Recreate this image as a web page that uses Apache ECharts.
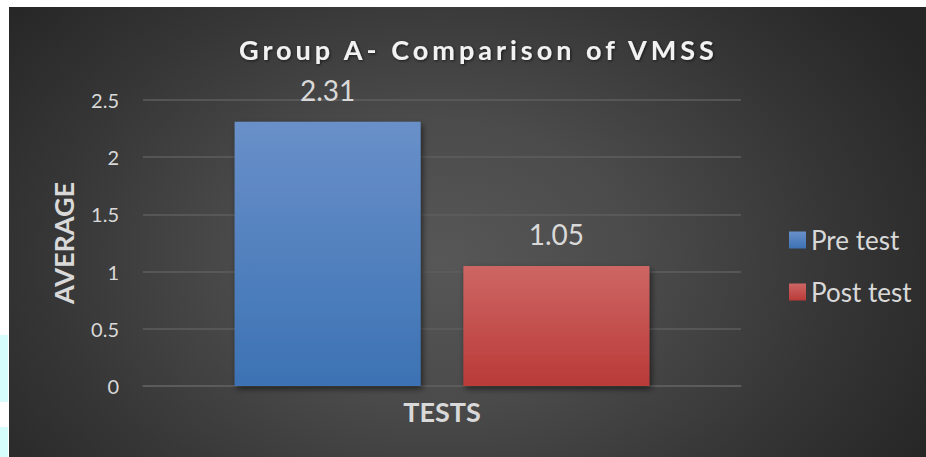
<!DOCTYPE html>
<html>
<head>
<meta charset="utf-8">
<script src="https://cdn.jsdelivr.net/npm/echarts@6/dist/echarts.min.js"></script>
<style>
  html, body { margin:0; padding:0; background:#ffffff; width:926px; height:457px; overflow:hidden; }
  #bg { position:absolute; left:9px; top:7px; width:917px; height:450px;
        background: radial-gradient(ellipse 560px 400px at 47% 56%, #575757 0%, #4b4b4b 35%, #363636 70%, #262626 100%); }
  .cy { position:absolute; left:0; width:8px; background:#d6fcfc; }
  #chart { position:absolute; left:0; top:0; width:926px; height:457px; }
</style>
</head>
<body>
<div class="cy" style="top:335px;height:67px"></div>
<div class="cy" style="top:427px;height:30px"></div>
<div id="bg"></div>
<div id="chart"></div>
<script>
const titleText = 'Group A- Comparison of VMSS';
const categories = ['Group A'];
const seriesNames = ['Pre test', 'Post test'];
const preTest = [2.31];
const postTest = [1.05];
const yTicks = { min: 0, max: 2.5, interval: 0.5 };
const xAxisTitle = 'TESTS';
const yAxisTitle = 'AVERAGE';

const chart = echarts.init(document.getElementById('chart'), null, { renderer: 'svg' });
const grad = (a, b) => new echarts.graphic.LinearGradient(0, 0, 0, 1, [
  { offset: 0, color: a }, { offset: 1, color: b }
]);
const labelStyle = { show: true, position: 'top', distance: 18, color: '#d9d9d9',
  fontFamily: 'Lato', fontSize: 28, fontWeight: 'normal' };
const barShadow = { shadowColor: 'rgba(0,0,0,0.55)', shadowBlur: 6, shadowOffsetX: 2, shadowOffsetY: 3 };

chart.setOption({
  animation: false,
  backgroundColor: 'transparent',
  title: {
    text: titleText, left: 234, top: 31,
    textStyle: { fontFamily: 'Lato', fontSize: 27, fontWeight: 'bold', color: '#f2f2f2',
      textShadowColor: 'rgba(0,0,0,0.6)', textShadowBlur: 3, textShadowOffsetX: 1, textShadowOffsetY: 1 }
  },
  legend: {
    orient: 'vertical', left: 784, top: 222, itemWidth: 17, itemHeight: 17, itemGap: 26,
    icon: 'rect',
    textStyle: { fontFamily: 'Lato', fontSize: 26, color: '#d9d9d9' },
    data: seriesNames
  },
  grid: { left: 143, right: 185, top: 100, bottom: 71, containLabel: false },
  xAxis: {
    type: 'category', data: categories,
    name: xAxisTitle, nameLocation: 'middle', nameGap: 12,
    nameTextStyle: { fontFamily: 'Lato', fontSize: 27, fontWeight: 'bold', color: '#d9d9d9' },
    axisLine: { lineStyle: { color: '#5e5e5e', width: 1.5 } },
    axisTick: { show: false }, axisLabel: { show: false }
  },
  yAxis: {
    type: 'value', min: yTicks.min, max: yTicks.max, interval: yTicks.interval,
    name: yAxisTitle, nameLocation: 'middle', nameGap: 66, nameRotate: 90,
    nameTextStyle: { fontFamily: 'Lato', fontSize: 27, fontWeight: 'bold', color: '#d9d9d9' },
    axisLine: { show: false }, axisTick: { show: false },
    axisLabel: { fontFamily: 'Lato', fontSize: 20, color: '#d9d9d9', margin: 24 },
    splitLine: { lineStyle: { color: '#5e5e5e', width: 1.5 } }
  },
  series: [
    { name: seriesNames[0], type: 'bar', data: preTest, barWidth: 186, barGap: '23%',
      itemStyle: Object.assign({ color: grad('#6990c9', '#3c72b4') }, barShadow),
      label: labelStyle },
    { name: seriesNames[1], type: 'bar', data: postTest, barWidth: 186,
      itemStyle: Object.assign({ color: grad('#cd6664', '#ba3a38') }, barShadow),
      label: labelStyle }
  ]
});

function spaceTitle() {
  document.querySelectorAll('#chart svg text').forEach(t => {
    if (t.textContent === titleText) t.style.letterSpacing = '4px';
  });
}
chart.on('finished', spaceTitle);
spaceTitle();
</script>
</body>
</html>
